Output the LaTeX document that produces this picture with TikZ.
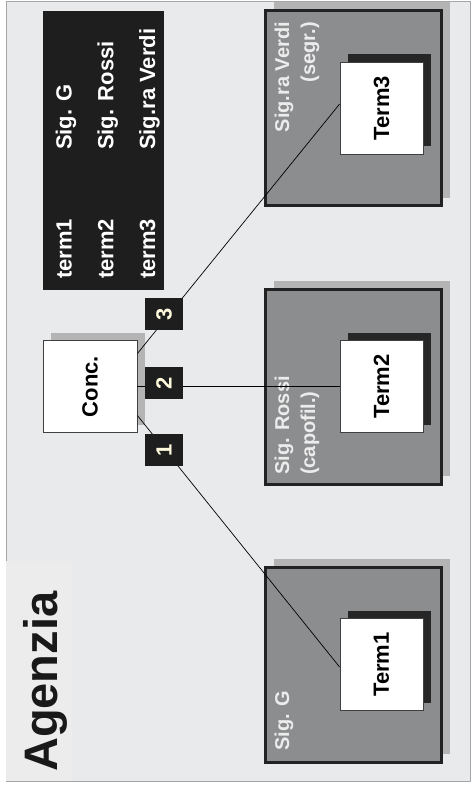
\documentclass[tikz,border=0pt]{standalone}
\usepackage{fontspec}
\setmainfont{Liberation Sans}
\usetikzlibrary{shadows}
\definecolor{bggray}{RGB}{233,234,236}
\definecolor{titlegray}{RGB}{236,236,237}
\definecolor{boxgray}{RGB}{140,141,143}
\definecolor{shadegray}{RGB}{180,180,181}
\definecolor{edgegray}{RGB}{34,34,34}
\definecolor{termshade}{RGB}{38,38,38}
\definecolor{legendblack}{RGB}{30,30,30}
\definecolor{numtext}{RGB}{255,250,220}
\definecolor{labelwhite}{RGB}{236,236,236}
\tikzset{
	sigbox/.style = {draw = edgegray, line width = 3pt, fill = boxgray, minimum width = 176pt, minimum height = 195pt, inner sep = 0pt, drop shadow = {shadow xshift = 8pt, shadow yshift = 8pt, fill = shadegray, opacity = 1}},
	termbox/.style = {draw = black!75, line width = 0.8pt, fill = white, minimum width = 83pt, minimum height = 92pt, inner sep = 0pt, font = \fontsize{22}{26}\selectfont\bfseries, drop shadow = {shadow xshift = 8pt, shadow yshift = 8pt, fill = termshade, opacity = 1}},
	concbox/.style = {draw = black!75, line width = 0.8pt, fill = white, minimum width = 94pt, minimum height = 92pt, inner sep = 0pt, font = \fontsize{22}{26}\selectfont\bfseries, drop shadow = {shadow xshift = 8pt, shadow yshift = 8pt, fill = shadegray, opacity = 1}},
	numbox/.style = {fill = legendblack, text = numtext, minimum width = 38pt, minimum height = 32pt, inner sep = 0pt, font = \fontsize{22}{26}\selectfont\bfseries},
	siglabel/.style = {rotate = 90, inner sep = 0pt, text = labelwhite, font = \fontsize{20}{24}\selectfont\bfseries},
	legendtext/.style = {rotate = 90, inner sep = 0pt, text = white, font = \fontsize{22}{26}\selectfont\bfseries},
	link/.style = {line width = 0.7pt, black}
}
\begin{document}
\begin{tikzpicture}[x = 1pt, y = -1pt]
	\useasboundingbox (0,0) rectangle (471,789);
	\draw [fill = bggray, draw = black!35, line width = 0.6pt] (6,1) rectangle (470,781);
	\fill [titlegray] (6,561) rectangle (72,781);
	\node [rotate = 90, anchor = base west, inner sep = 0pt, text = black!90, font = \fontsize{47}{50}\selectfont\bfseries] (title) at (57,772) {Agenzia};
	\node [fill = legendblack, minimum width = 121pt, minimum height = 279pt] (legend) at (103.5,150.5) {};
	\foreach \who [count = \k] in {Sig. G, Sig. Rossi, Sig.ra Verdi} {
		\node [legendtext, anchor = base west] (term\k name) at (30+41.7*\k,279) {term\k};
		\node [legendtext, anchor = base west] (who\k name) at (30+41.7*\k,150) {\who};
	}
	\node [sigbox] (sigVerdi) at (353.5,108) {};
	\node [sigbox] (sigRossi) at (353.5,386.5) {};
	\node [sigbox] (sigG) at (353.5,664.5) {};
	\node [siglabel, anchor = base east] (verdi) at (289,22) {Sig.ra Verdi};
	\node [siglabel, anchor = base east] (segr) at (315,22) {(segr.)};
	\node [siglabel, anchor = base west] (rossi) at (289,475) {Sig. Rossi};
	\node [siglabel, anchor = base west] (capofil) at (315,475) {(capofil.)};
	\node [siglabel, anchor = base west] (gname) at (289,751) {Sig. G};
	\node [termbox] (term3) at (381.5,108) {\rotatebox{90}{Term3}};
	\node [termbox] (term2) at (381.5,386.5) {\rotatebox{90}{Term2}};
	\node [termbox] (term1) at (381.5,664.5) {\rotatebox{90}{Term1}};
	\node [concbox] (conc) at (90,386.5) {\rotatebox{90}{Conc.}};
	\draw [link] ([yshift = 33pt]conc.east) -- ([yshift = 4pt]term3.west);
	\draw [link] (conc.east) -- (term2.west);
	\draw [link] ([yshift = -29pt]conc.east) -- ([yshift = -2.5pt]term1.west);
	\node [numbox] (num3) at (164,314) {\rotatebox{90}{3}};
	\node [numbox] (num2) at (164,383) {\rotatebox{90}{2}};
	\node [numbox] (num1) at (164,450) {\rotatebox{90}{1}};
\end{tikzpicture}
\end{document}
